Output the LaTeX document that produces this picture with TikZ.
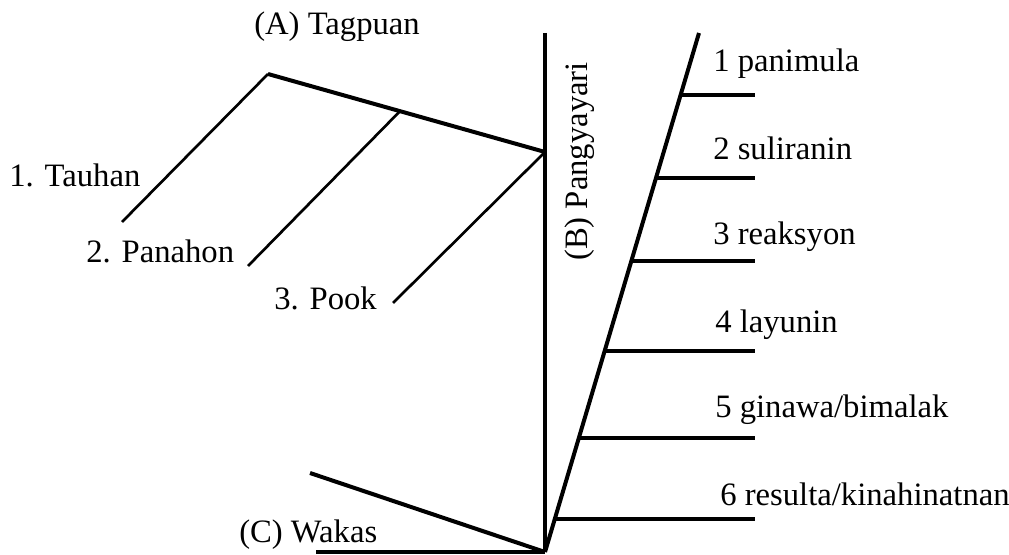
\documentclass[tikz,border=0pt]{standalone}
\usepackage{fontspec}
\setmainfont{Liberation Serif}
\newfontfamily\tnrfont{Liberation Serif}
\usetikzlibrary{calc}
\begin{document}
\begin{tikzpicture}[x=0.75pt,y=-0.75pt,
  thick line/.style={line width=3pt},
  thin line/.style={line width=2pt},
  lbl/.style={font=\tnrfont\fontsize{24.5}{28}\selectfont, inner sep=0pt, anchor=base west}]
\useasboundingbox (0,0) rectangle (1009,555);
% spine
\coordinate (vtop) at (545,33);
\coordinate (vbot) at (545,552);
\coordinate (stop) at (699,33);
\coordinate (rx) at (755,0);
% Tagpuan
\coordinate (apex) at (268,74);
\coordinate (junc) at (545,152);
\coordinate (mid) at ($(apex)!0.4765!(junc)$);
\coordinate (e1) at (122,222);
\coordinate (e2) at (248,266);
\coordinate (e3) at (393,303);
% Wakas
\coordinate (w1) at (310,473);
\coordinate (w2) at (316,552);

\draw[thick line] (vtop) -- (vbot);
\draw[thick line] (stop) -- (vbot);
\draw[thick line] (apex) -- (junc);
\draw[thin line] (apex) -- (e1);
\draw[thin line] (mid) -- (e2);
\draw[thin line] (junc) -- (e3);
\draw[thick line] (w1) -- (vbot);
\draw[thick line] (w2) -- (vbot);

\foreach \t [count=\i] in {0.1195,0.2794,0.4393,0.6127,0.7803,0.9364}{
  \coordinate (b\i) at ($(stop)!\t!(vbot)$);
  \draw[thick line] (b\i) -- (b\i -| rx);
}

\node[lbl] (tA) at (254,35) {(A) Tagpuan};
\node[lbl] (t1) at (9,187) {1. Tauhan};
\node[lbl] (t2) at (86,263) {2. Panahon};
\node[lbl] (t3) at (274,310) {3. Pook};
\node[lbl, rotate=90] (tB) at (587,261) {(B) Pangyayari};
\node[lbl] (p1) at (713,72) {1 panimula};
\node[lbl] (p2) at (713,160) {2 suliranin};
\node[lbl] (p3) at (713,245) {3 reaksyon};
\node[lbl] (p4) at (715,333) {4 layunin};
\node[lbl] (p5) at (715,417) {5 ginawa/bimalak};
\node[lbl] (p6) at (720,505) {6 resulta/kinahinatnan};
\node[lbl] (tC) at (239,542) {(C) Wakas};
\end{tikzpicture}
\end{document}
